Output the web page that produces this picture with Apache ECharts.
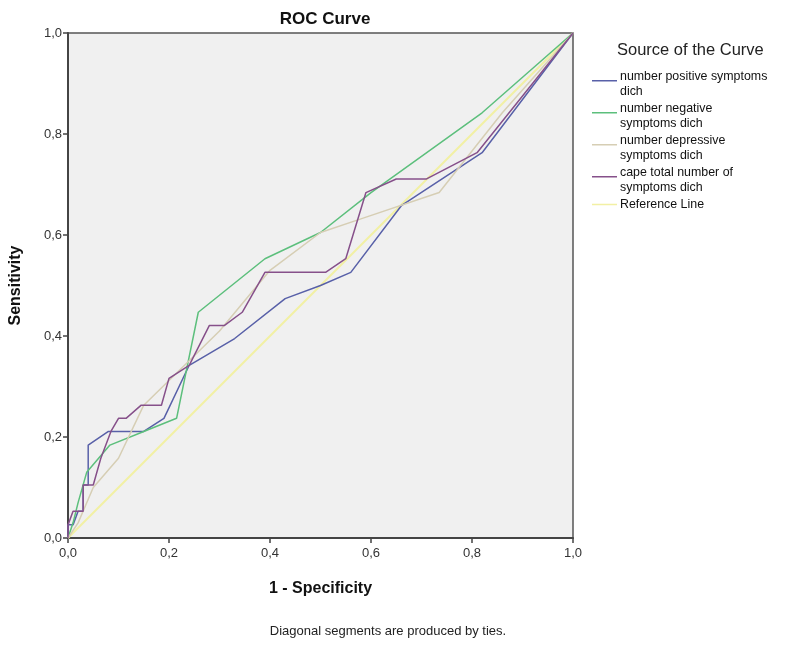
<!DOCTYPE html>
<html>
<head>
<meta charset="utf-8">
<script src="https://cdn.jsdelivr.net/npm/echarts@6/dist/echarts.min.js"></script>
<style>html,body{margin:0;padding:0;background:#fff;}#c{width:800px;height:646px;}</style>
</head>
<body>
<div id="c"></div>
<script>
const seriesNames = [
  'number positive symptoms\ndich',
  'number negative\nsymptoms dich',
  'number depressive\nsymptoms dich',
  'cape total number of\nsymptoms dich',
  'Reference Line'
];
const tickLabels = ['0,0','0,2','0,4','0,6','0,8','1,0'];

const positiveX = [0, 0, 0.01, 0.02, 0.03, 0.03, 0.04, 0.04, 0.08, 0.15, 0.19, 0.24, 0.33, 0.43, 0.5, 0.56, 0.66, 0.82, 1];
const positiveY = [0, 0.026, 0.026, 0.053, 0.053, 0.105, 0.105, 0.184, 0.211, 0.211, 0.237, 0.342, 0.395, 0.474, 0.5, 0.526, 0.658, 0.763, 1];

const negativeX = [0, 0.01, 0.02, 0.037, 0.083, 0.15, 0.215, 0.258, 0.39, 0.5, 0.6, 0.82, 1];
const negativeY = [0, 0.03, 0.07, 0.13, 0.184, 0.211, 0.237, 0.447, 0.553, 0.605, 0.684, 0.842, 1];

const depressiveX = [0, 0.02, 0.05, 0.1, 0.15, 0.3, 0.4, 0.5, 0.58, 0.735, 0.86, 1];
const depressiveY = [0, 0.03, 0.1, 0.158, 0.263, 0.41, 0.53, 0.605, 0.632, 0.684, 0.842, 1];

const capeX = [0, 0, 0.01, 0.03, 0.03, 0.05, 0.065, 0.085, 0.1, 0.115, 0.145, 0.185, 0.2, 0.24, 0.28, 0.31, 0.345, 0.39, 0.51, 0.55, 0.59, 0.65, 0.71, 0.81, 1];
const capeY = [0, 0.026, 0.053, 0.053, 0.105, 0.105, 0.158, 0.211, 0.237, 0.237, 0.263, 0.263, 0.316, 0.342, 0.421, 0.421, 0.447, 0.526, 0.526, 0.553, 0.684, 0.711, 0.711, 0.763, 1];

const referenceX = [0, 1];
const referenceY = [0, 1];

const colors = ['#5860a8', '#5cbf7c', '#d6ceb4', '#86508a', '#f2f0a4'];

function zip(xs, ys) { return xs.map((x, i) => [x, ys[i]]); }
const datasets = [zip(positiveX, positiveY), zip(negativeX, negativeY), zip(depressiveX, depressiveY), zip(capeX, capeY), zip(referenceX, referenceY)];

const font = '"Liberation Sans", Arial, sans-serif';
const chart = echarts.init(document.getElementById('c'), null, {renderer: 'canvas'});
const fmt = v => tickLabels[Math.round(v * 5)];

// legend icons: a short line, raised a little for two-line entries
const iconTwoLine = 'path://M0,0L0.01,0L0,0.01Z M0,3.6L25,3.6L25,5.1L0,5.1Z M25,15L24.99,15L25,14.99Z';
const iconOneLine = 'path://M0,0L0.01,0L0,0.01Z M0,6.75L25,6.75L25,8.25L0,8.25Z M25,15L24.99,15L25,14.99Z';

chart.setOption({
  animation: false,
  backgroundColor: '#ffffff',
  textStyle: {fontFamily: font},
  title: [
    {text: 'ROC Curve', left: 320, top: 6, textAlign: 'center',
     textStyle: {fontFamily: font, fontSize: 17, fontWeight: 'bold', color: '#111'}},
    {text: 'Source of the Curve', left: 612, top: 37,
     textStyle: {fontFamily: font, fontSize: 16.5, fontWeight: 'normal', color: '#222'}},
    {text: 'Diagonal segments are produced by ties.', left: 383, top: 620, textAlign: 'center',
     textStyle: {fontFamily: font, fontSize: 13, fontWeight: 'normal', color: '#222'}}
  ],
  legend: {
    orient: 'vertical', left: 592, top: 69, padding: 0, itemWidth: 25, itemHeight: 15,
    itemGap: 2,
    data: seriesNames.map((n, i) => ({name: n, icon: i === 4 ? iconOneLine : iconTwoLine})),
    textStyle: {fontFamily: font, fontSize: 12.4, color: '#111', lineHeight: 15, padding: [0, 0, 0, -2]}
  },
  grid: {left: 68, right: 227, top: 33, bottom: 108, show: true,
         backgroundColor: '#f0f0f0', borderColor: '#555', borderWidth: 1.5},
  xAxis: {
    type: 'value', min: 0, max: 1, interval: 0.2,
    name: '1 - Specificity', nameLocation: 'middle', nameGap: 43,
    nameTextStyle: {fontFamily: font, fontSize: 16, fontWeight: 'bold', color: '#111'},
    axisLine: {lineStyle: {color: '#444', width: 2}},
    axisTick: {show: true, length: 5, lineStyle: {color: '#444', width: 1.5}},
    axisLabel: {formatter: fmt, fontSize: 13, color: '#333', margin: 9},
    splitLine: {show: false}
  },
  yAxis: {
    type: 'value', min: 0, max: 1, interval: 0.2,
    name: 'Sensitivity', nameLocation: 'middle', nameGap: 44,
    nameTextStyle: {fontFamily: font, fontSize: 16, fontWeight: 'bold', color: '#111'},
    axisLine: {lineStyle: {color: '#444', width: 2}},
    axisTick: {show: true, length: 5, lineStyle: {color: '#444', width: 1.5}},
    axisLabel: {formatter: fmt, fontSize: 13, color: '#333', margin: 6},
    splitLine: {show: false}
  },
  series: [4, 0, 1, 2, 3].map(i => ({
    name: seriesNames[i], type: 'line', data: datasets[i], showSymbol: false,
    symbol: 'none', smooth: false,
    lineStyle: {color: colors[i], width: i === 4 ? 2 : 1.5},
    itemStyle: {color: colors[i]}
  }))
});
</script>
</body>
</html>
